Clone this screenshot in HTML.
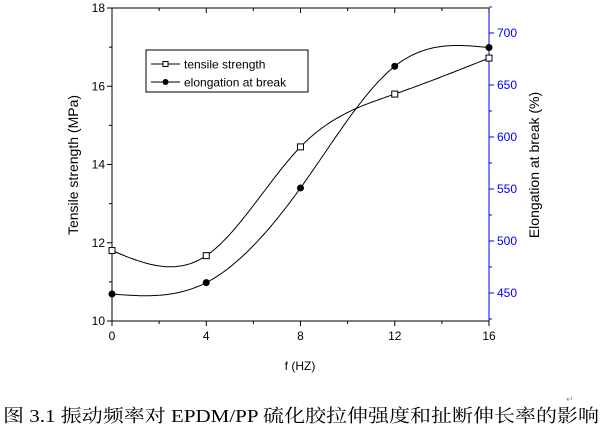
<!DOCTYPE html>
<html><head><meta charset="utf-8"><style>
html,body{margin:0;padding:0;background:#fff;}
svg{display:block;}
text{font-family:"Liberation Sans",Arial,sans-serif;}
</style></head><body>
<svg id="chart" width="605" height="430" viewBox="0 0 605 430">
<g id="grid"></g>
<g id="axes"></g>
<g id="series"></g>
<g>
 <rect x="146" y="50" width="162" height="42" fill="#fff" stroke="#000" stroke-width="1"/>
 <line x1="151" y1="64" x2="180" y2="64" stroke="#000"/>
 <rect x="163" y="61.5" width="5" height="5" fill="#fff" stroke="#000"/>
 <text x="184" y="68.5" font-size="12">tensile strength</text>
 <line x1="151" y1="82" x2="180" y2="82" stroke="#000"/>
 <circle cx="165.5" cy="82" r="3" fill="#000"/>
 <text x="184" y="86.5" font-size="12">elongation at break</text>
</g>
<text x="300" y="370" font-size="12" text-anchor="middle">f (HZ)</text>
<text transform="translate(78,165) rotate(-90)" font-size="14" text-anchor="middle">Tensile strength (MPa)</text>
<text transform="translate(539,165) rotate(-90)" font-size="14" text-anchor="middle">Elongation at break (%)</text>
<text x="3" y="422" font-size="18" textLength="596" lengthAdjust="spacingAndGlyphs" style='font-family:"Liberation Serif","Noto Serif CJK SC",serif'>图 3.1  振动频率对 EPDM/PP 硫化胶拉伸强度和扯断伸长率的影响</text>
<text x="566" y="402" font-size="9" fill="#999">↵</text>
</svg>
<script>
const freqs=[0,4,8,12,16];
const tensile=[11.8,11.67,14.45,15.8,16.72];
const elongation=[449,460,551,668,686];
const xTicks=[0,4,8,12,16];
const yLeftTicks=[10,12,14,16,18];
const yRightTicks=[450,500,550,600,650,700];

const X0=112,X1=489,YT=8,YB=321;
const xs=v=>X0+(v-0)/(16-0)*(X1-X0);
const yl=v=>YB-(v-10)/(18-10)*(YB-YT);
const yr=v=>137-(v-600)*1.04;
const NS="http://www.w3.org/2000/svg";
function mk(tag,attrs,parent){const e=document.createElementNS(NS,tag);for(const k in attrs)e.setAttribute(k,attrs[k]);parent.appendChild(e);return e;}
const axes=document.getElementById('axes'),ser=document.getElementById('series');

const fl=mk('line',{x1:X0,y1:YT,x2:X0,y2:YB,stroke:'#000'},axes);


const fb=mk('line',{x1:X0,y1:YB,x2:X1,y2:YB,stroke:'#000'},axes);


const ft=mk('line',{x1:X0,y1:YT,x2:X1,y2:YT,stroke:'#000'},axes);


const fr=mk('line',{x1:X1,y1:YT,x2:X1,y2:YB,stroke:'#00f'},axes);



for(let i=0;i<xTicks.length;i++){const x=xs(xTicks[i]);
 mk('line',{x1:x,y1:YB,x2:x,y2:YB+5,stroke:'#000'},axes);
 mk('line',{x1:x,y1:YT,x2:x,y2:YT+5,stroke:'#000'},axes);
 if(i<xTicks.length-1){const xm=xs(xTicks[i]+2);
  mk('line',{x1:xm,y1:YB,x2:xm,y2:YB+3,stroke:'#000'},axes);
  mk('line',{x1:xm,y1:YT,x2:xm,y2:YT+3,stroke:'#000'},axes);}
 const t=mk('text',{x:x,y:YB+19,'font-size':12,'text-anchor':'middle'},axes);t.textContent=xTicks[i];
 
 }
for(let i=0;i<yLeftTicks.length;i++){const y=yl(yLeftTicks[i]);
 mk('line',{x1:X0-5,y1:y,x2:X0,y2:y,stroke:'#000'},axes);
 if(i<yLeftTicks.length-1){const ym=yl(yLeftTicks[i]+1);mk('line',{x1:X0-3,y1:ym,x2:X0,y2:ym,stroke:'#000'},axes);}
 const t=mk('text',{x:X0-7,y:y+4,'font-size':12,'text-anchor':'end'},axes);t.textContent=yLeftTicks[i];
 
 }
for(let i=0;i<yRightTicks.length;i++){const y=yr(yRightTicks[i]);
 mk('line',{x1:X1,y1:y,x2:X1+5,y2:y,stroke:'#00f'},axes);
 const ym=yr(yRightTicks[i]-25);if(ym<YB)mk('line',{x1:X1,y1:ym,x2:X1+3,y2:ym,stroke:'#00f'},axes);
 const t=mk('text',{x:X1+8,y:y+4,'font-size':12,fill:'#00f'},axes);t.textContent=yRightTicks[i];
 
 }
{const ym=yr(725);mk('line',{x1:X1,y1:ym,x2:X1+3,y2:ym,stroke:'#00f'},axes);}

function spline(xa,ya){const n=xa.length,h=[],al=[0],l=[1],mu=[0],z=[0],c=new Array(n).fill(0),b=[],d=[];
 for(let i=0;i<n-1;i++)h.push(xa[i+1]-xa[i]);
 for(let i=1;i<n-1;i++)al.push(3/h[i]*(ya[i+1]-ya[i])-3/h[i-1]*(ya[i]-ya[i-1]));
 for(let i=1;i<n-1;i++){l[i]=2*(xa[i+1]-xa[i-1])-h[i-1]*mu[i-1];mu[i]=h[i]/l[i];z[i]=(al[i]-h[i-1]*z[i-1])/l[i];}
 for(let j=n-2;j>=0;j--){c[j]=z[j]-mu[j]*c[j+1];b[j]=(ya[j+1]-ya[j])/h[j]-h[j]*(c[j+1]+2*c[j])/3;d[j]=(c[j+1]-c[j])/(3*h[j]);}
 return x=>{let j=Math.min(n-2,Math.max(0,xa.findIndex((v,k)=>k<n-1&&x<=xa[k+1])));const dx=x-xa[j];return ya[j]+b[j]*dx+c[j]*dx*dx+d[j]*dx*dx*dx;};}
function curve(vals,scale,name){const f=spline(freqs,vals);let p='';for(let i=0;i<=160;i++){const x=16*i/160;p+=(i?'L':'M')+xs(x).toFixed(1)+','+scale(f(x)).toFixed(1);}
 const e=mk('path',{d:p,fill:'none',stroke:'#000','stroke-width':1},ser);
 
 }
curve(tensile,yl,'tensile-curve');
curve(elongation,yr,'elongation-curve');
for(let i=0;i<freqs.length;i++){
 const r=mk('rect',{x:xs(freqs[i])-3,y:yl(tensile[i])-3,width:6,height:6,fill:'#fff',stroke:'#000'},ser);
 
 
 const c=mk('circle',{cx:xs(freqs[i]),cy:yr(elongation[i]),r:3.5,fill:'#000'},ser);
 
 }
</script>
</body></html>
